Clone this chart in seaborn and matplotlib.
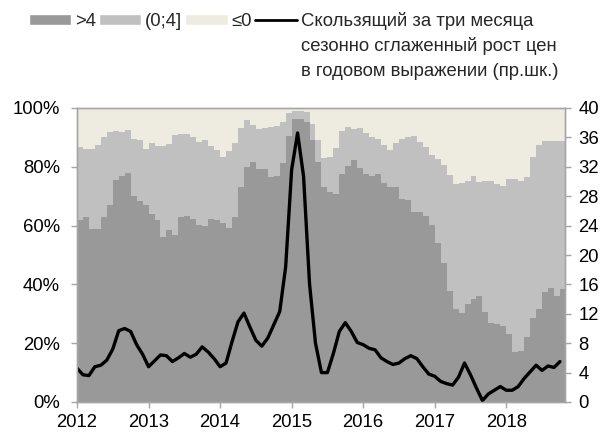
import numpy as np
import matplotlib
matplotlib.use("Agg")
import matplotlib.pyplot as plt
import seaborn as sns
from matplotlib.ticker import PercentFormatter, MultipleLocator
from matplotlib.patches import Patch
from matplotlib.lines import Line2D

# monthly, Jan 2012 - Oct 2018
years = [2012, 2013, 2014, 2015, 2016, 2017, 2018]

# shares of items by growth rate, %
share_above4 = [62, 63, 58.7, 59, 63, 67, 75.5, 77, 78, 70, 68.5, 67,
                64, 62, 56, 58.5, 56.8, 63, 63.3, 62.2, 60.2, 60, 62.1, 61.8,
                60.8, 59.2, 62.8, 73, 80, 81.8, 79.3, 79.1, 76.4, 76.9, 81.2, 90.6,
                96.2, 96.2, 95.4, 89.2, 81.8, 73.1, 71.5, 70.7, 77.4, 80.3, 82.3, 79.5,
                77.4, 77, 77.5, 74.5, 73.1, 73.1, 68.9, 68.8, 64.7, 64.5, 63.3, 60.2,
                54.2, 47.2, 37.8, 31.8, 30.2, 33.2, 35.2, 35.9, 30.6, 27, 26.5, 26,
                23, 17, 17.3, 22, 28.5, 31.5, 37.5, 38.7, 36.2, 38.3]
share_0_4 = [24.6, 23, 27.3, 28.4, 27, 25, 16.7, 15, 14.5, 19.6, 20.5, 19,
             24, 25, 31, 29.3, 33.9, 28.2, 27.7, 28.1, 28.1, 29.1, 24.9, 23.8,
             22.4, 26.1, 25.2, 20.2, 16, 12.5, 13.7, 14.2, 17.3, 17.1, 14.1, 7.7,
             2.7, 2.7, 3.1, 5.4, 7.4, 9.9, 11.9, 15.6, 14.9, 13.4, 10.4, 13.6,
             14, 13.3, 12, 12.8, 12.6, 14.9, 20.5, 21.5, 25.8, 24, 23.5, 23.8,
             28.3, 33.4, 39.4, 42.3, 44.2, 42.1, 41.8, 39, 44.7, 48.2, 47.5, 47.6,
             52.8, 59, 57.9, 54.6, 54.8, 56, 51.3, 50.1, 52.6, 50.5]
share_le0 = [13.4, 14, 14, 12.6, 10, 8, 7.8, 8, 7.5, 10.4, 11, 14,
             12, 13, 13, 12.2, 9.3, 8.8, 9, 9.7, 11.7, 10.9, 13, 14.4,
             16.8, 14.7, 12, 6.8, 4, 5.7, 7, 6.7, 6.3, 6, 4.7, 1.7,
             1.1, 1.1, 1.5, 5.4, 10.8, 17, 16.6, 13.7, 7.7, 6.3, 7.3, 6.9,
             8.6, 9.7, 10.5, 12.7, 14.3, 12, 10.6, 9.7, 9.5, 11.5, 13.2, 16,
             17.5, 19.4, 22.8, 25.9, 25.6, 24.7, 23, 25.1, 24.7, 24.8, 26, 26.4,
             24.2, 24, 24.8, 23.4, 16.7, 12.5, 11.2, 11.2, 11.2, 11.2]

# 3-month moving average, SA, annualised (right axis)
growth_3m = [4.6, 3.7, 3.6, 4.8, 5.0, 5.7, 7.2, 9.7, 10.0, 9.6, 7.8, 6.5,
             4.8, 5.6, 6.4, 6.3, 5.5, 6.0, 6.6, 6.1, 6.5, 7.5, 6.8, 5.9,
             4.8, 5.3, 8.2, 10.9, 12.1, 10.2, 8.4, 7.6, 8.7, 10.5, 12.3, 18.4,
             31.6, 36.6, 30.7, 16.1, 8.0, 4.0, 4.0, 6.6, 9.6, 10.8, 9.6, 8.1,
             7.8, 7.3, 7.1, 6.0, 5.5, 5.1, 5.3, 5.9, 6.3, 5.9, 4.8, 3.8,
             3.5, 2.8, 2.5, 2.3, 3.4, 5.3, 3.7, 1.9, 0.2, 1.1, 1.6, 2.1,
             1.6, 1.6, 2.1, 3.2, 4.1, 5.0, 4.3, 4.9, 4.7, 5.5]

labels = ['>4', '(0;4]', '≤0']
line_label = ['Скользящий за три месяца', 'сезонно сглаженный рост цен',
              'в годовом выражении (пр.шк.)']

c_dark = '#999999'
c_light = '#c0c0c0'
c_beige = '#eeece1'
c_axis = '#a6a6a6'
fs = 13.3

sns.set_style('white')
plt.rcParams['font.family'] = ['Liberation Sans', 'DejaVu Sans']
plt.rcParams['font.size'] = fs

fig = plt.figure(figsize=(6.04, 4.33), dpi=100)
ax = fig.add_axes([77 / 604, 1 - 402 / 433, (565 - 77) / 604, (402 - 108) / 433])

n = len(share_above4)
edges = np.arange(n + 1)
s1 = np.array(share_above4) / 100
s2 = np.array(share_0_4) / 100
s3 = np.array(share_le0) / 100
b1 = np.append(s1, s1[-1])
b2 = b1 + np.append(s2, s2[-1])
b3 = b2 + np.append(s3, s3[-1])
ax.fill_between(edges, 0, b1, step='post', color=c_dark, lw=0)
ax.fill_between(edges, b1, b2, step='post', color=c_light, lw=0)
ax.fill_between(edges, b2, b3, step='post', color=c_beige, lw=0)

xmax = 81.85
ax.set_xlim(0, xmax)
ax.set_ylim(0, 1)
ax.yaxis.set_major_locator(MultipleLocator(0.2))
ax.yaxis.set_major_formatter(PercentFormatter(1.0, decimals=0))
ax.set_xticks([12 * k for k in range(len(years))])
ax.set_xticklabels([str(y) for y in years])

ax2 = ax.twinx()
sns.lineplot(x=np.arange(n), y=growth_3m, ax=ax2, color='black', lw=2.4)
ax2.set_ylim(0, 40)
ax2.yaxis.set_major_locator(MultipleLocator(4))
ax2.set_xlim(0, xmax)

for a in (ax, ax2):
    for sp in a.spines.values():
        sp.set_color(c_axis)
        sp.set_linewidth(1)
        sp.set_visible(True)
    a.tick_params(length=4.3, width=1, color=c_axis, labelcolor='black',
                  labelsize=fs)
ax.tick_params(axis='x', bottom=True, pad=4.5)
ax.tick_params(axis='y', left=True, pad=8)
ax2.tick_params(axis='y', right=True, pad=5.5)

handles = [Patch(facecolor=c_dark, label=labels[0]),
           Patch(facecolor=c_light, label=labels[1]),
           Patch(facecolor=c_beige, label=labels[2]),
           Line2D([], [], color='black', lw=2, label=line_label[0])]
leg = fig.legend(handles=handles, ncol=4, loc='upper left',
                 bbox_to_anchor=(29 / 604, 1 - 12 / 433), frameon=False,
                 handlelength=2.3, handleheight=0.55, handletextpad=0.2,
                 columnspacing=0.15, borderaxespad=0, borderpad=0,
                 fontsize=fs)

fig.canvas.draw()
tb = leg.get_texts()[3].get_window_extent()
x0 = tb.x0 / fig.bbox.width
yc = (tb.y0 + tb.y1) / 2
for k, txt in enumerate(line_label[1:], start=1):
    fig.text(x0, (yc - 25 * k) / fig.bbox.height, txt, ha='left', va='center',
             fontsize=fs)

fig.savefig('out.png', dpi=100)
